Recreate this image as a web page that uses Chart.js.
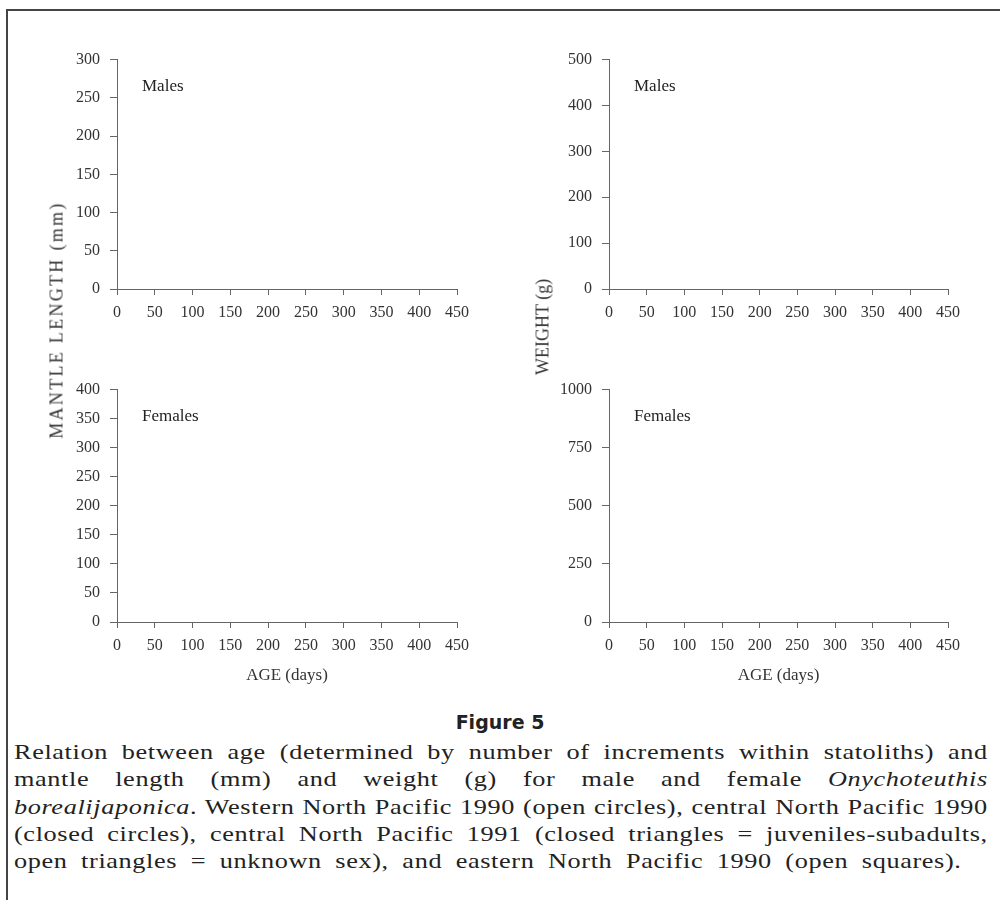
<!DOCTYPE html>
<html>
<head>
<meta charset="utf-8">
<script src="https://cdn.jsdelivr.net/npm/chart.js@4"></script>
<style>
  body { margin:0; background:#fff; width:1000px; height:900px; position:relative; overflow:hidden; font-family:"Liberation Serif", serif; color:#222; }
  .frameTop { position:absolute; left:6px; top:9px; width:994px; height:2px; background:#444; }
  .frameLeft { position:absolute; left:6px; top:9px; width:2px; height:891px; background:#444; }
  .panel { position:absolute; }
  .ytitle { position:absolute; font-size:18px; white-space:nowrap; transform:translate(-50%,-50%) rotate(-90deg); color:#333; }
  .figTitle { position:absolute; left:0; width:1000px; top:711px; text-align:center; font-family:"DejaVu Sans", sans-serif; font-weight:bold; font-size:19px; color:#222; }
  .caption { position:absolute; left:14px; width:779px; top:739px; font-size:21px; letter-spacing:0.5px; line-height:27.3px; color:#222; transform:scaleX(1.25); transform-origin:0 0; }
  .caption div { text-align:justify; text-align-last:justify; white-space:nowrap; }
  .caption div.last { width:758px; }
</style>
</head>
<body>
<div class="frameTop"></div>
<div class="frameLeft"></div>

<canvas id="mlMales" class="panel" style="left:60px;top:40px;"></canvas>
<canvas id="wMales" class="panel" style="left:540px;top:40px;"></canvas>
<canvas id="mlFemales" class="panel" style="left:60px;top:370px;"></canvas>
<canvas id="wFemales" class="panel" style="left:540px;top:370px;"></canvas>

<div class="ytitle" style="left:57px;top:320px;letter-spacing:2.3px;">MANTLE LENGTH (mm)</div>
<div class="ytitle" style="left:543px;top:327px;">WEIGHT (g)</div>

<div class="figTitle">Figure 5</div>
<div class="caption">
  <div>Relation between age (determined by number of increments within statoliths) and</div>
  <div>mantle length (mm) and weight (g) for male and female <i>Onychoteuthis</i></div>
  <div><i>borealijaponica</i>. Western North Pacific 1990 (open circles), central North Pacific 1990</div>
  <div>(closed circles), central North Pacific 1991 (closed triangles = juveniles-subadults,</div>
  <div class="last">open triangles = unknown sex), and eastern North Pacific 1990 (open squares).</div>
</div>

<script>
// age axis (days)
var ageTicks = [0, 50, 100, 150, 200, 250, 300, 350, 400, 450];
var lengthMalesTicks = [0, 50, 100, 150, 200, 250, 300];
var lengthFemalesTicks = [0, 50, 100, 150, 200, 250, 300, 350, 400];
var weightMalesTicks = [0, 100, 200, 300, 400, 500];
var weightFemalesTicks = [0, 250, 500, 750, 1000];

// the plotted points are not visible in the figure, so the series stay empty
var westernNP1990 = [];
var centralNP1990 = [];
var centralNP1991 = [];
var centralNP1991Unknown = [];
var easternNP1990 = [];

var panelLabel = {
  id: 'panelLabel',
  afterDraw: function(chart, args, opts) {
    var ctx = chart.ctx;
    ctx.save();
    ctx.font = '17px "Liberation Serif"';
    ctx.fillStyle = '#222';
    ctx.textBaseline = 'middle';
    ctx.fillText(opts.text, chart.chartArea.left + 25, chart.chartArea.top + 27);
    ctx.restore();
  }
};

function plain(v) { return String(v); }

function makePanel(id, w, h, yTicks, label, yWidth, padRight, padTop, xHeight, showAge) {
  var el = document.getElementById(id);
  el.width = w; el.height = h;
  el.style.width = w + 'px'; el.style.height = h + 'px';
  var tickFont = { family: 'Liberation Serif', size: 16 };
  new Chart(el, {
    type: 'scatter',
    data: {
      datasets: [
        { label: 'Western NP 1990', data: westernNP1990, pointStyle: 'circle', backgroundColor: '#fff', borderColor: '#000' },
        { label: 'Central NP 1990', data: centralNP1990, pointStyle: 'circle', backgroundColor: '#000', borderColor: '#000' },
        { label: 'Central NP 1991', data: centralNP1991, pointStyle: 'triangle', backgroundColor: '#000', borderColor: '#000' },
        { label: 'Unknown sex', data: centralNP1991Unknown, pointStyle: 'triangle', backgroundColor: '#fff', borderColor: '#000' },
        { label: 'Eastern NP 1990', data: easternNP1990, pointStyle: 'rect', backgroundColor: '#fff', borderColor: '#000' }
      ]
    },
    options: {
      responsive: false,
      animation: false,
      layout: { padding: { top: padTop, right: padRight, bottom: 0, left: 0 } },
      plugins: {
        legend: { display: false },
        tooltip: { enabled: false },
        panelLabel: { text: label }
      },
      scales: {
        x: {
          type: 'linear', min: 0, max: 450,
          afterBuildTicks: function(s) { s.ticks = ageTicks.map(function(v) { return { value: v }; }); },
          afterFit: function(s) { s.height = xHeight; },
          grid: { drawOnChartArea: false, tickLength: 6, color: '#666' },
          border: { color: '#666', width: 1 },
          ticks: { font: tickFont, color: '#333', padding: 8, maxRotation: 0, autoSkip: false, callback: plain },
          title: { display: showAge, text: 'AGE (days)', font: { family: 'Liberation Serif', size: 17 }, color: '#333', padding: { top: 0, bottom: 14 } }
        },
        y: {
          type: 'linear', min: 0, max: yTicks[yTicks.length - 1],
          afterBuildTicks: function(s) { s.ticks = yTicks.map(function(v) { return { value: v }; }); },
          afterFit: function(s) { s.width = yWidth; },
          grid: { drawOnChartArea: false, tickLength: 7, color: '#666' },
          border: { color: '#666', width: 1 },
          ticks: { font: tickFont, color: '#333', padding: 10, autoSkip: false, callback: plain }
        }
      }
    },
    plugins: [panelLabel]
  });
}

makePanel('mlMales', 420, 290, lengthMalesTicks, 'Males', 57, 23, 12, 41, false);
makePanel('wMales', 440, 290, weightMalesTicks, 'Males', 69, 32, 13, 41, false);
makePanel('mlFemales', 420, 330, lengthFemalesTicks, 'Females', 57, 23, 16, 78, true);
makePanel('wFemales', 440, 330, weightFemalesTicks, 'Females', 69, 32, 16, 78, true);
</script>
</body>
</html>
